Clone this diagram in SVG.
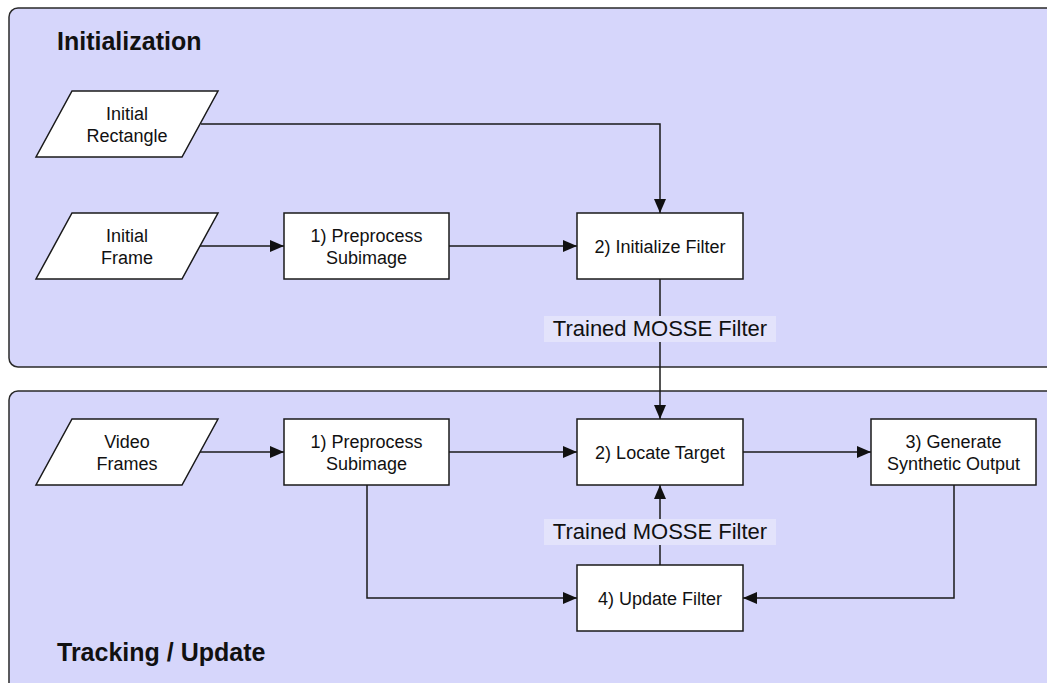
<svg xmlns="http://www.w3.org/2000/svg" width="1047" height="683" viewBox="0 0 1047 683">
<defs>
<marker id="ah" viewBox="0 0 14 12" refX="14" refY="6" markerWidth="14" markerHeight="12" markerUnits="userSpaceOnUse" orient="auto">
<path d="M0,0 L14,6 L0,12 Z" fill="#111"/>
</marker>
<style>
.panel{fill:#d6d6fb;stroke:#2a2a2a;stroke-width:1.5}
.node{fill:#fff;stroke:#1a1a1a;stroke-width:1.5}
.t{font-family:"Liberation Sans",Arial,sans-serif;font-size:18px;fill:#111;text-anchor:middle}
.title{font-family:"Liberation Sans",Arial,sans-serif;font-size:25px;font-weight:bold;fill:#111}
.lbl{font-family:"Liberation Sans",Arial,sans-serif;font-size:22px;fill:#111;text-anchor:middle}
.lblbg{fill:#e3e3fb}
.c{fill:none;stroke:#1a1a1a;stroke-width:1.5;marker-end:url(#ah)}
</style>
</defs>
<rect width="1047" height="683" fill="#ffffff"/>
<g id="panel-init">
<rect class="panel" x="9" y="8" width="1060" height="359" rx="9"/>
<text class="title" x="57" y="50">Initialization</text>
</g>
<g id="panel-track">
<rect class="panel" x="9" y="391" width="1060" height="310" rx="9"/>
<text class="title" x="57" y="661">Tracking / Update</text>
</g>
<g id="connectors">
<polyline class="c" points="201,124 660,124 660,213"/>
<line class="c" x1="200" y1="246" x2="284" y2="246"/>
<line class="c" x1="449" y1="246" x2="577" y2="246"/>
<line class="c" x1="660" y1="279" x2="660" y2="419"/>
<line class="c" x1="200" y1="452" x2="284" y2="452"/>
<line class="c" x1="449" y1="452" x2="577" y2="452"/>
<line class="c" x1="743" y1="452" x2="871" y2="452"/>
<polyline class="c" points="367,485 367,598 577,598"/>
<polyline class="c" points="954,485 954,598 743,598"/>
<line class="c" x1="660" y1="565" x2="660" y2="485"/>
<g id="label1">
<rect class="lblbg" x="544" y="316" width="232" height="26"/>
<text class="lbl" x="660" y="336">Trained MOSSE Filter</text>
</g>
<g id="label2">
<rect class="lblbg" x="544" y="519" width="232" height="26"/>
<text class="lbl" x="660" y="539">Trained MOSSE Filter</text>
</g>
</g>
<g id="initial-rectangle">
<polygon class="node" points="72,91 218,91 182,157 36,157"/>
<text class="t" x="127" y="120">Initial</text>
<text class="t" x="127" y="142">Rectangle</text>
</g>
<g id="initial-frame">
<polygon class="node" points="72,213 218,213 182,279 36,279"/>
<text class="t" x="127" y="242">Initial</text>
<text class="t" x="127" y="264">Frame</text>
</g>
<g id="preprocess-1">
<rect class="node" x="284" y="213" width="165" height="66"/>
<text class="t" x="366.5" y="242">1) Preprocess</text>
<text class="t" x="366.5" y="264">Subimage</text>
</g>
<g id="initialize-filter">
<rect class="node" x="577" y="213" width="166" height="66"/>
<text class="t" x="660" y="253">2) Initialize Filter</text>
</g>
<g id="video-frames">
<polygon class="node" points="72,419 218,419 182,485 36,485"/>
<text class="t" x="127" y="448">Video</text>
<text class="t" x="127" y="470">Frames</text>
</g>
<g id="preprocess-2">
<rect class="node" x="284" y="419" width="165" height="66"/>
<text class="t" x="366.5" y="448">1) Preprocess</text>
<text class="t" x="366.5" y="470">Subimage</text>
</g>
<g id="locate-target">
<rect class="node" x="577" y="419" width="166" height="66"/>
<text class="t" x="660" y="459">2) Locate Target</text>
</g>
<g id="generate-output">
<rect class="node" x="871" y="419" width="165" height="66"/>
<text class="t" x="953.5" y="448">3) Generate</text>
<text class="t" x="953.5" y="470">Synthetic Output</text>
</g>
<g id="update-filter">
<rect class="node" x="577" y="565" width="166" height="66"/>
<text class="t" x="660" y="605">4) Update Filter</text>
</g>
</svg>
